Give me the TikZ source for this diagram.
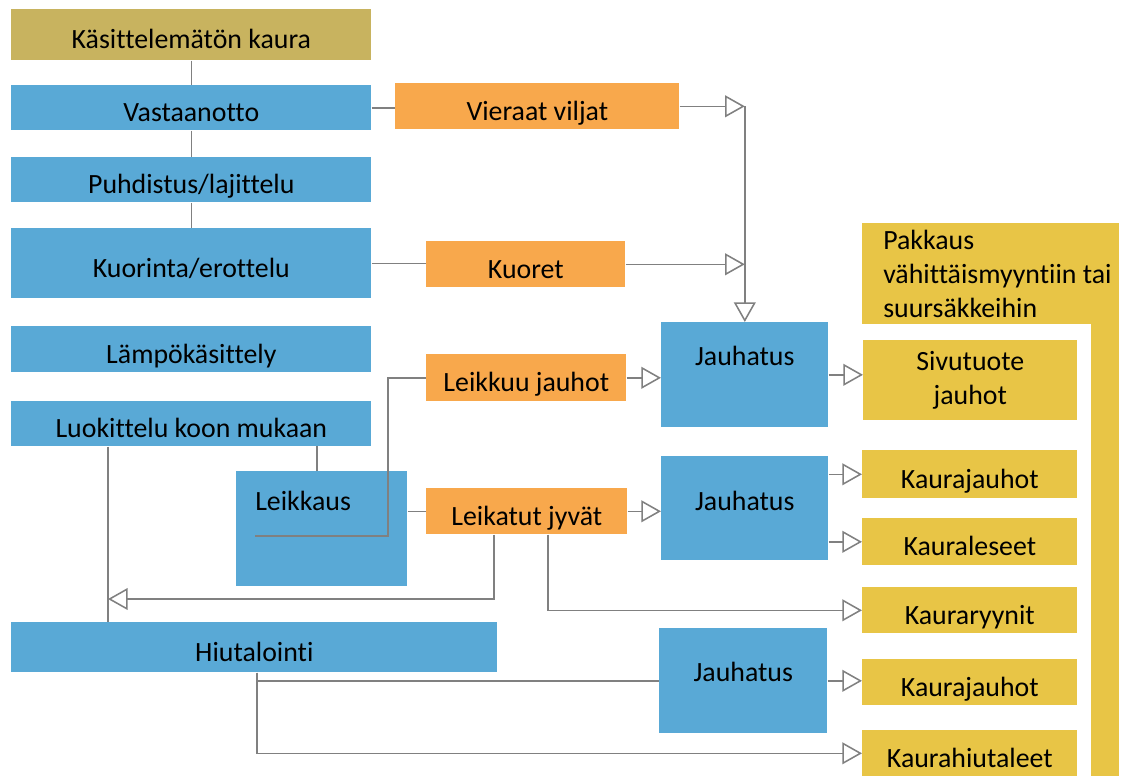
\documentclass[tikz,border=0pt]{standalone}
\usepackage{fontspec}
\setmainfont{Carlito}[Ligatures=CommonOff]
\usetikzlibrary{arrows.meta,calc}
\definecolor{sininen}{HTML}{59A9D6}
\definecolor{oranssi}{HTML}{F8A84C}
\definecolor{keltainen}{HTML}{E8C546}
\definecolor{ruskea}{HTML}{C8B35F}
\definecolor{harmaa}{HTML}{808080}

\begin{document}
\begin{tikzpicture}[x=0.025cm, y=-0.025cm, font=\fontsize{19.8}{24}\selectfont,
  perus/.style={inner sep=0pt, anchor=north west, align=center},
  matala/.style={text height=23.5pt, text depth=4pt},
  vaihe/.style={perus, fill=sininen},
  jae/.style={perus, matala, fill=oranssi, minimum height=1.15cm},
  tuote/.style={perus, fill=keltainen, minimum width=5.375cm},
  yhteys/.style={draw=harmaa, line width=1.1pt},
  nuoli/.style={yhteys, -{Triangle[open, length=14pt, width=15.5pt]}}]
\useasboundingbox (0,0) rectangle (1129,778);
\node[perus, matala, fill=ruskea, minimum width=9cm, minimum height=1.275cm] (raaka) at (11,9) {Käsittelemätön kaura};
\node[vaihe, matala, minimum width=9cm, minimum height=1.125cm] (vast) at (11,85) {Vastaanotto};
\node[vaihe, matala, minimum width=9cm, minimum height=1.125cm] (puhd) at (11,157) {Puhdistus/lajittelu};
\node[vaihe, matala, minimum width=9cm, minimum height=1.75cm] (kuor) at (11,228) {Kuorinta/erottelu};
\node[vaihe, matala, minimum width=9cm, minimum height=1.15cm] (lampo) at (11,326) {Lämpökäsittely};
\node[vaihe, matala, minimum width=9cm, minimum height=1.125cm] (luok) at (11,401) {Luokittelu koon mukaan};
\node[vaihe, minimum width=4.275cm, minimum height=2.875cm, inner xsep=0.475cm, text height=28pt, text depth=53.8pt] (leik) at (236,471) {\makebox[3.325cm][l]{Leikkaus}};
\node[vaihe, matala, minimum width=12.15cm, minimum height=1.25cm] (hiut) at (11,622) {Hiutalointi};
\node[vaihe, minimum width=4.175cm, minimum height=2.625cm, text height=30.9pt, text depth=43.8pt] (jauh1) at (661,322) {Jauhatus};
\node[vaihe, minimum width=4.175cm, minimum height=2.6cm, text height=38.7pt, text depth=35.3pt] (jauh2) at (661,456) {Jauhatus};
\node[vaihe, minimum width=4.2cm, minimum height=2.625cm, text height=38pt, text depth=36.7pt] (jauh3) at (659,628) {Jauhatus};
\node[jae, minimum width=7.1cm] (vier) at (395,83) {Vieraat viljat};
\node[jae, minimum width=4.975cm] (kuoret) at (426,241) {Kuoret};
\node[jae, minimum width=5cm, minimum height=1.175cm] (ljauh) at (426,354) {Leikkuu jauhot};
\node[jae, minimum width=5.025cm] (ljyv) at (426,488) {Leikatut jyvät};
\node[tuote, minimum width=5.35cm, minimum height=2cm] (sivu) at (863,340) {Sivutuote\\jauhot};
\node[tuote, matala, minimum height=1.2cm] (kjauh1) at (862,450) {Kaurajauhot};
\node[tuote, matala, minimum height=1.175cm] (klese) at (862,518) {Kauraleseet};
\node[tuote, matala, minimum height=1.15cm] (kryyn) at (862,587) {Kauraryynit};
\node[tuote, matala, minimum height=1.15cm] (kjauh2) at (862,659) {Kaurajauhot};
\node[tuote, matala, minimum height=1.15cm] (khiut) at (862,730) {Kaurahiutaleet};
\node[tuote, minimum width=6.425cm, minimum height=2.525cm, label={[perus, anchor=west, align=left, xshift=0.525cm]west:{Pakkaus\\vähittäismyyntiin tai\\suursäkkeihin}}] (pakk) at (862,223) {};
\node[tuote, minimum width=0.7cm, minimum height=11.3cm] (pakkpylvas) at (1091,324) {};
\coordinate (lkalku) at (255,536);
\coordinate (paluu) at (108,599);
\draw[yhteys] (raaka) -- (vast);
\draw[yhteys] (vast) -- (puhd);
\draw[yhteys] (puhd) -- (kuor);
\draw[yhteys] (vast.east) -- (vast.east -| vier.west);
\draw[nuoli] (vier.east) -- (vier.east -| jauh1.north);
\draw[yhteys] (kuor.east) -- (kuor.east -| kuoret.west);
\draw[nuoli] (kuoret.east) -- (kuoret.east -| jauh1.north);
\draw[nuoli] (vier.east -| jauh1.north) -- (jauh1.north);
\draw[yhteys] (leik.north west) ++(81,0) -- ++(0,-25);
\draw[yhteys] (luok.south west) ++(97,0) coordinate (haara) -- (haara |- hiut.north);
\draw[nuoli] (ljyv.south west) ++(68,0) |- (paluu);
\draw[yhteys] (lkalku) -- ++(133,0) |- (ljauh.west);
\draw[yhteys] (ljyv.west -| leik.east) -- (ljyv.west);
\draw[nuoli] (ljauh.east) -- (ljauh.east -| jauh1.west);
\draw[nuoli] (ljyv.east) -- (ljyv.east -| jauh2.west);
\draw[nuoli] (jauh1.east) -- (jauh1.east -| sivu.west);
\draw[nuoli] (kjauh1.west -| jauh2.east) -- (kjauh1.west);
\draw[nuoli] (klese.west -| jauh2.east) -- (klese.west);
\draw[nuoli] (ljyv.south west) ++(122,0) |- (kryyn.west);
\draw[yhteys] (hiut.south west) ++(246,0) |- (jauh3.west);
\draw[nuoli] (hiut.south west) ++(246,0) |- (khiut.west);
\draw[nuoli] (jauh3.east) -- (jauh3.east -| kjauh2.west);
\end{tikzpicture}
\end{document}
